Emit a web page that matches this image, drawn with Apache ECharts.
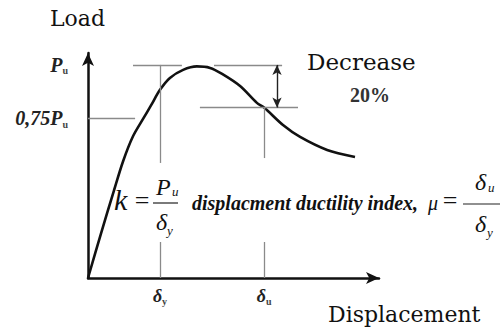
<!DOCTYPE html>
<html>
<head>
<meta charset="utf-8">
<script src="https://cdn.jsdelivr.net/npm/echarts@6/dist/echarts.min.js"></script>
<style>
  html, body { margin: 0; padding: 0; background: #fff; }
  #chart { width: 500px; height: 336px; }
</style>
</head>
<body>
<div id="chart"></div>
<script>
// Load–displacement curve, load given as a fraction of the peak load Pu
const curveX = [0, 0.43, 0.87, 1.17, 1.5, 1.85, 2.1, 2.4, 2.73, 3.17, 3.63, 4.07, 4.47, 5.07, 5.63, 5.87, 6.5, 7.07, 7.97, 8.9];
const curveY = [0, 0.207, 0.413, 0.548, 0.665, 0.75, 0.81, 0.883, 0.939, 0.977, 0.993, 0.986, 0.958, 0.901, 0.822, 0.80, 0.718, 0.662, 0.601, 0.568];

// characteristic levels and displacements
const peakLoad = 1.0;        // Pu
const yieldLevel = 0.75;     // 0,75 Pu
const residualLevel = 0.8;   // Pu after the 20 % decrease
const deltaY = 2.4;          // δy
const deltaU = 5.87;         // δu
const secantEnd = [2.6, 1.085];

// extents of the construction lines (displacement or load ranges)
const puLeftSpan = [1.5, 3.13];
const puRightSpan = [4.2, 6.47];
const yieldSpan = [0, 1.57];
const residualSpan = [3.73, 7.0];
const deltaYUpper = [0.54, 1.0];
const deltaYLower = [0, 0.169];
const deltaUUpper = [0.563, 0.8];
const deltaULower = [0, 0.169];
const dropArrowX = 6.3;

// tick labels
const yTickValues = [yieldLevel, peakLoad];
const yTickLabels = ['0,75P', 'P'];
const xTickValues = [deltaY, deltaU];
const xTickSubs = ['y', 'u'];

const curve = curveX.map((x, i) => [x, curveY[i]]);
const seg = (a, b) => [{ coord: a }, { coord: b }];

const SERIF = 'Liberation Serif';
const TITLE = 'DejaVu Serif, Liberation Serif, serif';

const guideLines = [
  seg([0, 0], secantEnd),
  seg([puLeftSpan[0], peakLoad], [puLeftSpan[1], peakLoad]),
  seg([puRightSpan[0], peakLoad], [puRightSpan[1], peakLoad]),
  seg([yieldSpan[0], yieldLevel], [yieldSpan[1], yieldLevel]),
  seg([residualSpan[0], residualLevel], [residualSpan[1], residualLevel]),
  seg([deltaY, deltaYUpper[0]], [deltaY, deltaYUpper[1]]),
  seg([deltaY, deltaYLower[0]], [deltaY, deltaYLower[1]]),
  seg([deltaU, deltaUUpper[0]], [deltaU, deltaUUpper[1]]),
  seg([deltaU, deltaULower[0]], [deltaU, deltaULower[1]])
];

// plain text helper: size, family, style ('normal' | 'italic'), weight
function txt(text, x, y, size, family, fstyle, weight, extra) {
  return {
    type: 'text', x: x, y: y, silent: true,
    style: Object.assign({
      text: text, fontSize: size, fontFamily: family,
      fontStyle: fstyle || 'normal', fontWeight: weight || 'normal',
      fill: '#111', align: 'left', verticalAlign: 'middle'
    }, extra || {})
  };
}
function bar(x1, x2, y) {
  return { type: 'line', silent: true, shape: { x1: x1, y1: y, x2: x2, y2: y }, style: { stroke: '#222', lineWidth: 1.2 } };
}

const chart = echarts.init(document.getElementById('chart'), null, { renderer: 'svg' });
chart.setOption({
  animation: false,
  backgroundColor: '#fff',
  grid: { left: 88, right: 121, top: 53, bottom: 58 },
  xAxis: {
    type: 'value', min: 0, max: 9.7,
    splitLine: { show: false },
    axisTick: { show: false },
    axisLine: { show: true, symbol: ['none', 'arrow'], symbolSize: [9, 13], lineStyle: { color: '#111', width: 2.5 } },
    axisLabel: {
      customValues: xTickValues, margin: 8,
      formatter: v => '{m|δ}{s|' + xTickSubs[xTickValues.indexOf(v)] + '}',
      rich: {
        m: { fontFamily: SERIF, fontStyle: 'italic', fontWeight: 'bold', fontSize: 18, color: '#222', lineHeight: 20 },
        s: { fontFamily: SERIF, fontWeight: 'bold', fontSize: 10, color: '#444', lineHeight: 12, verticalAlign: 'bottom' }
      }
    }
  },
  yAxis: {
    type: 'value', min: 0, max: 1.056,
    splitLine: { show: false },
    axisTick: { show: false },
    axisLine: { show: true, symbol: ['none', 'arrow'], symbolSize: [9, 13], lineStyle: { color: '#111', width: 2.5 } },
    axisLabel: {
      customValues: yTickValues, margin: 20,
      formatter: v => '{m|' + yTickLabels[yTickValues.indexOf(v)] + '}{s|u}',
      rich: {
        m: { fontFamily: SERIF, fontStyle: 'italic', fontWeight: 'bold', fontSize: 20, color: '#222', lineHeight: 22 },
        s: { fontFamily: SERIF, fontWeight: 'bold', fontSize: 10, color: '#444', lineHeight: 12, verticalAlign: 'bottom' }
      }
    }
  },
  series: [
    {
      name: 'construction', type: 'line', data: [], silent: true,
      markLine: {
        silent: true, symbol: 'none', animation: false,
        label: { show: false },
        lineStyle: { color: '#8a8a8a', width: 1.3, type: 'solid' },
        data: guideLines
      }
    },
    {
      name: 'decrease', type: 'line', data: [], silent: true,
      markLine: {
        silent: true, symbol: ['arrow', 'arrow'], symbolSize: [7, 10], animation: false,
        label: { show: false },
        lineStyle: { color: '#222', width: 1.4, type: 'solid' },
        data: [seg([dropArrowX, peakLoad], [dropArrowX, residualLevel])]
      }
    },
    {
      name: 'load', type: 'line', data: curve, smooth: 0.3, showSymbol: false, clip: false,
      lineStyle: { color: '#111', width: 2.6 }
    }
  ],
  graphic: [
    txt('Load', 50, 18, 22, TITLE),
    txt('Decrease', 307, 62, 23, TITLE),
    txt('20%', 350, 95, 20, SERIF, 'normal', 'bold', { fill: '#333' }),
    txt('Displacement', 328, 314, 22, TITLE),
    // k = Pu / δy
    txt('k', 114, 199.5, 30, SERIF, 'italic'),
    txt('=', 142, 200, 26, SERIF, 'normal', 'normal', { align: 'center' }),
    txt('P', 156, 186.6, 24, SERIF, 'italic'),
    txt('u', 172, 191.5, 13, SERIF, 'italic'),
    bar(153, 178, 203),
    txt('δ', 156, 221.6, 24, SERIF, 'italic'),
    txt('y', 167, 230.5, 13, SERIF, 'italic'),
    // ductility index
    txt('displacment ductility index,', 192, 203, 20, SERIF, 'italic', 'bold'),
    txt('μ', 428, 203, 20, SERIF, 'italic'),
    txt('=', 450, 200, 26, SERIF, 'normal', 'normal', { align: 'center' }),
    bar(463, 500, 204),
    txt('δ', 475, 181.6, 24, SERIF, 'italic'),
    txt('u', 488, 187.5, 13, SERIF, 'italic'),
    txt('δ', 475, 223.6, 24, SERIF, 'italic'),
    txt('y', 487, 232.5, 13, SERIF, 'italic')
  ]
});
</script>
</body>
</html>
